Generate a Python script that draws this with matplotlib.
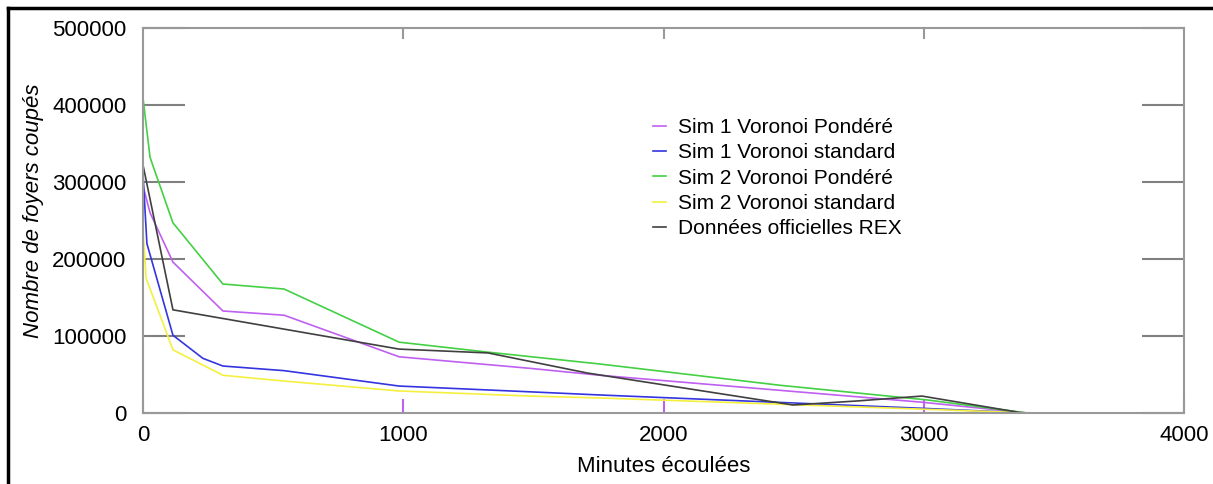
import matplotlib.pyplot as plt
from matplotlib.lines import Line2D

plt.rcParams['font.family'] = ['Liberation Sans', 'DejaVu Sans']

# Sim 1 Voronoi Pondéré
sim1_pond_x = [0, 27, 115, 307, 542, 984, 1487, 1756, 2993, 3400]
sim1_pond_y = [295000, 260000, 196000, 132500, 127000, 73000, 58000, 49000, 14000, 0]

# Sim 1 Voronoi standard
sim1_std_x = [0, 15, 115, 230, 307, 542, 984, 1487, 1756, 3000, 3400]
sim1_std_y = [310000, 220000, 101000, 71000, 61000, 55000, 35000, 27500, 23400, 6000, 0]

# Sim 2 Voronoi Pondéré
sim2_pond_x = [0, 27, 115, 307, 542, 984, 1326, 1756, 2448, 3012, 3397]
sim2_pond_y = [409000, 332000, 247000, 167500, 161000, 92000, 79000, 63600, 36000, 17000, 0]

# Sim 2 Voronoi standard
sim2_std_x = [0, 12, 115, 307, 542, 984, 1487, 1756, 3293, 3400]
sim2_std_y = [237000, 175000, 82000, 49000, 41500, 28600, 22000, 19500, 1500, 0]

# Données officielles REX
rex_x = [0, 115, 984, 1326, 1706, 2498, 2743, 2993, 3381]
rex_y = [322000, 134000, 83000, 78000, 52000, 10400, 15600, 22000, 0]

series = [
    (sim1_pond_x, sim1_pond_y, '#c060f0', 'Sim 1 Voronoi Pondéré'),
    (sim1_std_x, sim1_std_y, '#3434e0', 'Sim 1 Voronoi standard'),
    (sim2_pond_x, sim2_pond_y, '#44d044', 'Sim 2 Voronoi Pondéré'),
    (sim2_std_x, sim2_std_y, '#f4f040', 'Sim 2 Voronoi standard'),
    (rex_x, rex_y, '#404040', 'Données officielles REX'),
]

x_ticks = [0, 1000, 2000, 3000, 4000]
y_ticks = [0, 100000, 200000, 300000, 400000, 500000]

fig = plt.figure(figsize=(12.13, 4.84), dpi=100)
ax = fig.add_axes([0.1179, 0.1467, 0.8582, 0.7954])

for xs, ys, color, label in series:
    ax.plot(xs, ys, color=color, lw=1.2, label=label)

ax.set_xlim(0, 4000)
ax.set_ylim(0, 500000)
ax.set_xticks(x_ticks)
ax.set_yticks(y_ticks)
ax.set_xticklabels([str(v) for v in x_ticks], fontsize=16)
ax.set_yticklabels([str(v) for v in y_ticks], fontsize=16)

for s in ax.spines.values():
    s.set_color('#999999')
    s.set_linewidth(1.5)

ax.tick_params(axis='y', direction='in', length=30, width=1.5, color='#808080',
               left=True, right=True, pad=12)
ax.tick_params(axis='x', direction='in', length=10, width=1.5, color='#c060f0',
               bottom=True, top=False, pad=9)
# top ticks in gray
for xv in x_ticks[1:-1]:
    ax.plot([xv, xv], [500000, 487000], color='#999999', lw=1.5, clip_on=False)

ax.set_xlabel('Minutes écoulées', fontsize=16)
ax.xaxis.set_label_coords(0.5, -0.112)
ax.set_ylabel('Nombre de foyers coupés', fontsize=16, style='italic')
ax.yaxis.set_label_coords(-0.095, 0.525)

leg = ax.legend(loc='upper left', bbox_to_anchor=(0.49, 0.766), frameon=False,
                fontsize=15, handlelength=0.6, handletextpad=0.6,
                labelspacing=0.3, borderpad=0, borderaxespad=0)

# outer black frame (top and left edges visible)
fig.add_artist(Line2D([8 / 1213, 1], [1 - 8 / 484, 1 - 8 / 484], color='black', lw=2.5))
fig.add_artist(Line2D([8 / 1213, 8 / 1213], [0, 1 - 8 / 484], color='black', lw=2.5))

fig.savefig('out.png', dpi=100)
